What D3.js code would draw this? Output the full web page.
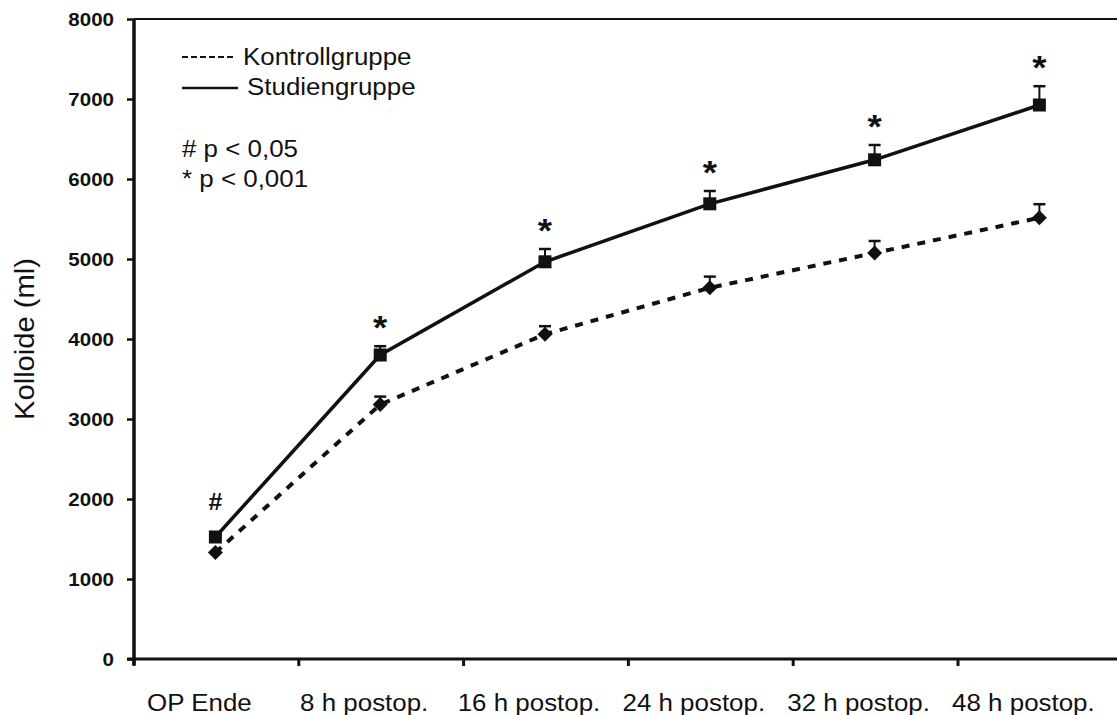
<!DOCTYPE html>
<html>
<head>
<meta charset="utf-8">
<script src="https://cdn.jsdelivr.net/npm/d3@7"></script>
<style>
  html, body { margin: 0; padding: 0; background: #fff; }
  svg text { font-family: "Liberation Sans", Arial, sans-serif; fill: #111; }
</style>
</head>
<body>
<div id="chart"></div>
<script>
const categories = ["OP Ende", "8 h postop.", "16 h postop.", "24 h postop.", "32 h postop.", "48 h postop."];
const kontrolle = [1330, 3180, 4060, 4640, 5075, 5515];
const kontrolleErr = [0, 100, 100, 140, 150, 170];
const studie = [1525, 3800, 4965, 5690, 6240, 6925];
const studieErr = [0, 110, 160, 160, 185, 235];
const signif = ["#", "*", "*", "*", "*", "*"];
const yTicks = [0, 1000, 2000, 3000, 4000, 5000, 6000, 7000, 8000];

const width = 1117, height = 715;
const margin = { top: 19, left: 134, bottom: 56 };
const sx = 1.08; // text in the source is a bit wide

const svg = d3.select("#chart").append("svg")
  .attr("width", width).attr("height", height);

const x = d3.scaleBand().domain(categories)
  .range([margin.left - 1, margin.left - 1 + 6 * 164.8]).padding(0);
const y = d3.scaleLinear().domain([0, 8000])
  .range([height - margin.bottom, margin.top]);
const cx = (d) => x(d) + x.bandwidth() / 2;

function txt(g, str, px, py, size, anchor, weight) {
  return g.append("text")
    .attr("transform", `translate(${px},${py}) scale(${sx},1)`)
    .attr("text-anchor", anchor || "start")
    .style("font-size", size + "px")
    .style("font-weight", weight || "normal")
    .text(str);
}

// frame line on top
svg.append("line")
  .attr("x1", margin.left).attr("x2", width)
  .attr("y1", y(8000)).attr("y2", y(8000))
  .attr("stroke", "#111").attr("stroke-width", 2);

// y axis
const yAxis = svg.append("g")
  .attr("transform", `translate(${margin.left},0)`)
  .call(d3.axisLeft(y).tickValues(yTicks).tickSize(7).tickFormat(""));
yAxis.select(".domain").attr("stroke", "#111").attr("stroke-width", 3.5)
  .attr("d", `M0,${y(0) + 6}V${y(8000)}`);
yAxis.selectAll(".tick line").attr("stroke", "#111").attr("stroke-width", 2.5);
yTicks.forEach((t) => {
  txt(svg, d3.format("d")(t), margin.left - 20, y(t) + 7, 19, "end", "bold");
});

// x axis
const xAxis = svg.append("g")
  .attr("transform", `translate(0,${y(0)})`);
xAxis.append("line")
  .attr("x1", margin.left - 7).attr("x2", width)
  .attr("stroke", "#111").attr("stroke-width", 3);
xAxis.selectAll("line.tk")
  .data(categories)
  .join("line")
  .attr("class", "tk")
  .attr("x1", (d) => x(d) + 1).attr("x2", (d) => x(d) + 1)
  .attr("y1", 0).attr("y2", 7)
  .attr("stroke", "#111").attr("stroke-width", 3);
categories.forEach((c) => {
  txt(svg, c, cx(c) - 16, y(0) + 52, 24, "middle");
});

// y axis title
svg.append("text")
  .attr("transform", `translate(34,${(y(0) + y(8000)) / 2}) rotate(-90) scale(${sx},1)`)
  .attr("text-anchor", "middle")
  .style("font-size", "27px")
  .text("Kolloide (ml)");

// lines
const line = (vals) => d3.line()
  .x((d, i) => cx(categories[i]))
  .y((d) => y(d))(vals);

svg.append("path").attr("d", line(kontrolle))
  .attr("fill", "none").attr("stroke", "#111")
  .attr("stroke-width", 4).attr("stroke-dasharray", "8,8");
svg.append("path").attr("d", line(studie))
  .attr("fill", "none").attr("stroke", "#111")
  .attr("stroke-width", 3.5);

// error bars (upper only)
function errBars(vals, errs) {
  const g = svg.append("g");
  vals.forEach((v, i) => {
    if (!errs[i]) return;
    const px = cx(categories[i]);
    g.append("line").attr("x1", px).attr("x2", px)
      .attr("y1", y(v)).attr("y2", y(v + errs[i]))
      .attr("stroke", "#111").attr("stroke-width", 2);
    g.append("line").attr("x1", px - 6).attr("x2", px + 6)
      .attr("y1", y(v + errs[i])).attr("y2", y(v + errs[i]))
      .attr("stroke", "#111").attr("stroke-width", 2.5);
  });
}
errBars(kontrolle, kontrolleErr);
errBars(studie, studieErr);

// markers
svg.append("g").selectAll("path")
  .data(kontrolle)
  .join("path")
  .attr("transform", (d, i) => `translate(${cx(categories[i])},${y(d)})`)
  .attr("d", "M0,-7.5L7.5,0L0,7.5L-7.5,0Z")
  .attr("fill", "#111");
svg.append("g").selectAll("rect")
  .data(studie)
  .join("rect")
  .attr("x", (d, i) => cx(categories[i]) - 6.5)
  .attr("y", (d) => y(d) - 6.5)
  .attr("width", 13).attr("height", 13)
  .attr("fill", "#111");

// significance marks
signif.forEach((s, i) => {
  const top = y(studie[i] + studieErr[i]);
  if (s === "*") {
    txt(svg, s, cx(categories[i]), top - 7, 34, "middle", "bold");
  } else {
    txt(svg, s, cx(categories[i]), top - 27, 23, "middle", "bold");
  }
});

// legend
const leg = svg.append("g");
leg.append("line").attr("x1", 182).attr("x2", 236).attr("y1", 57).attr("y2", 57)
  .attr("stroke", "#111").attr("stroke-width", 2).attr("stroke-dasharray", "6,3");
txt(leg, "Kontrollgruppe", 243, 65, 24);
leg.append("line").attr("x1", 182).attr("x2", 238).attr("y1", 88).attr("y2", 88)
  .attr("stroke", "#111").attr("stroke-width", 2.5);
txt(leg, "Studiengruppe", 247, 95, 24);
txt(leg, "# p < 0,05", 182, 157, 24);
txt(leg, "* p < 0,001", 182, 187, 24);
</script>
</body>
</html>
